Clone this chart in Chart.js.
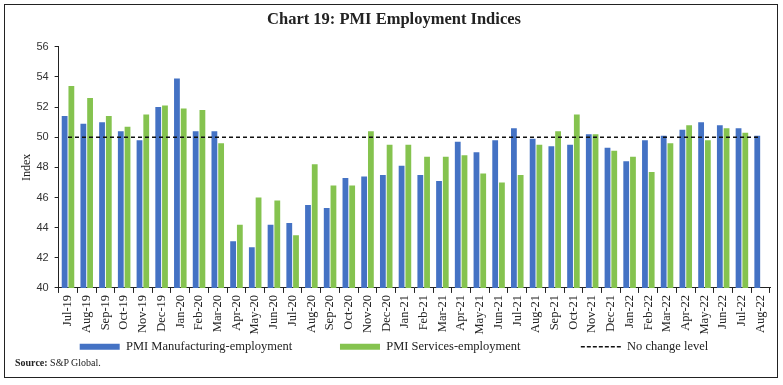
<!DOCTYPE html>
<html>
<head>
    <title>Chart 19: PMI Employment Indices</title>
    <script src="https://cdn.jsdelivr.net/npm/chart.js"></script>
    <style>
        body { margin: 0; background: #fff; }
        #wrap { position: relative; width: 783px; height: 385px; }
        #frame { position: absolute; left: 4px; top: 4px; width: 772px; height: 372px; border: 1.5px solid #222; pointer-events: none; }
        #source { position: absolute; left: 15px; top: 357px; font: 10px "Liberation Serif", serif; color: #222; }
    </style>
</head>
<body>
<div id="wrap">
    <canvas id="myChart" width="783" height="385"></canvas>
    <div id="frame"></div>
    <div id="source"><b>Source:</b> S&amp;P Global.</div>
</div>
<script>
const months = ['Jul-19', 'Aug-19', 'Sep-19', 'Oct-19', 'Nov-19', 'Dec-19', 'Jan-20', 'Feb-20', 'Mar-20', 'Apr-20',
    'May-20', 'Jun-20', 'Jul-20', 'Aug-20', 'Sep-20', 'Oct-20', 'Nov-20', 'Dec-20', 'Jan-21', 'Feb-21',
    'Mar-21', 'Apr-21', 'May-21', 'Jun-21', 'Jul-21', 'Aug-21', 'Sep-21', 'Oct-21', 'Nov-21', 'Dec-21',
    'Jan-22', 'Feb-22', 'Mar-22', 'Apr-22', 'May-22', 'Jun-22', 'Jul-22', 'Aug-22'];

const manufacturing = [51.4, 50.9, 51.0, 50.4, 49.8, 52.0, 53.9, 50.4, 50.4, 43.1,
    42.7, 44.2, 44.3, 45.5, 45.3, 47.3, 47.4, 47.5, 48.1, 47.5,
    47.1, 49.7, 49.0, 49.8, 50.6, 49.9, 49.4, 49.5, 50.2, 49.3,
    48.4, 49.8, 50.1, 50.5, 51.0, 50.8, 50.6, 50.1];

const services = [53.4, 52.6, 51.4, 50.7, 51.5, 52.1, 51.9, 51.8, 49.6, 44.2,
    46.0, 45.8, 43.5, 48.2, 46.8, 46.8, 50.4, 49.5, 49.5, 48.7,
    48.7, 48.8, 47.6, 47.0, 47.5, 49.5, 50.4, 51.5, 50.2, 49.1,
    48.7, 47.7, 49.6, 50.8, 49.8, 50.6, 50.3, null];

const noChange = months.map(() => 50);

const serif = '"Liberation Serif", serif';
// extra room after the first two legend labels
const legendGaps = ['\u2003\u2003\u2003\u2002', '\u2003\u2003\u2003\u2003\u2002'];

const ctx = document.getElementById('myChart').getContext('2d');
const myChart = new Chart(ctx, {
    type: 'bar',
    data: {
        labels: months,
        datasets: [{
            label: 'PMI Manufacturing-employment',
            data: manufacturing,
            backgroundColor: '#4472C4',
            pointStyle: 'rect',
            categoryPercentage: 0.72,
            barPercentage: 0.86,
            order: 2
        }, {
            label: 'PMI Services-employment',
            data: services,
            backgroundColor: '#85C34F',
            pointStyle: 'rect',
            categoryPercentage: 0.72,
            barPercentage: 0.86,
            order: 2
        }, {
            type: 'line',
            label: 'No change level',
            data: noChange,
            borderColor: '#111',
            borderWidth: 1.5,
            borderDash: [4, 3],
            pointRadius: 0,
            pointStyle: 'line',
            fill: false,
            order: 1
        }]
    },
    options: {
        responsive: false,
        animation: false,
        layout: { padding: { left: 18, right: 13, top: 4, bottom: 22 } },
        plugins: {
            title: {
                display: true,
                text: 'Chart 19: PMI Employment Indices',
                color: '#222',
                font: { family: serif, size: 16.5, weight: 'bold' },
                padding: { top: 6, bottom: 17 }
            },
            legend: {
                position: 'bottom',
                labels: {
                    usePointStyle: true,
                    pointStyleWidth: 40,
                    boxWidth: 40,
                    boxHeight: 6,
                    padding: 4,
                    color: '#222',
                    font: { family: serif, size: 12.5 },
                    sort: (a, b) => a.datasetIndex - b.datasetIndex,
                    generateLabels: function(chart) {
                        const items = Chart.defaults.plugins.legend.labels.generateLabels(chart);
                        items.forEach(item => {
                            if (item.datasetIndex === 2) {
                                item.lineDash = [4, 2];
                                item.lineWidth = 1.5;
                                item.strokeStyle = '#111';
                            } else {
                                item.text = item.text + legendGaps[item.datasetIndex];
                            }
                        });
                        return items;
                    }
                }
            },
            tooltip: { enabled: false }
        },
        scales: {
            x: {
                grid: { drawOnChartArea: false, color: '#222', tickLength: 5 },
                border: { color: '#222' },
                ticks: {
                    maxRotation: 90,
                    minRotation: 90,
                    autoSkip: false,
                    color: '#222',
                    padding: 2,
                    font: { family: serif, size: 12.5 }
                }
            },
            y: {
                min: 40,
                max: 56,
                ticks: {
                    stepSize: 2,
                    color: '#333',
                    padding: 6,
                    font: { family: '"Liberation Sans", sans-serif', size: 11 }
                },
                grid: { drawOnChartArea: false, color: '#222', tickLength: 4 },
                border: { color: '#222' },
                title: {
                    display: true,
                    text: 'Index',
                    color: '#222',
                    padding: { top: 2, bottom: -4 },
                    font: { family: serif, size: 12 }
                }
            }
        }
    }
});
</script>
</body>
</html>
